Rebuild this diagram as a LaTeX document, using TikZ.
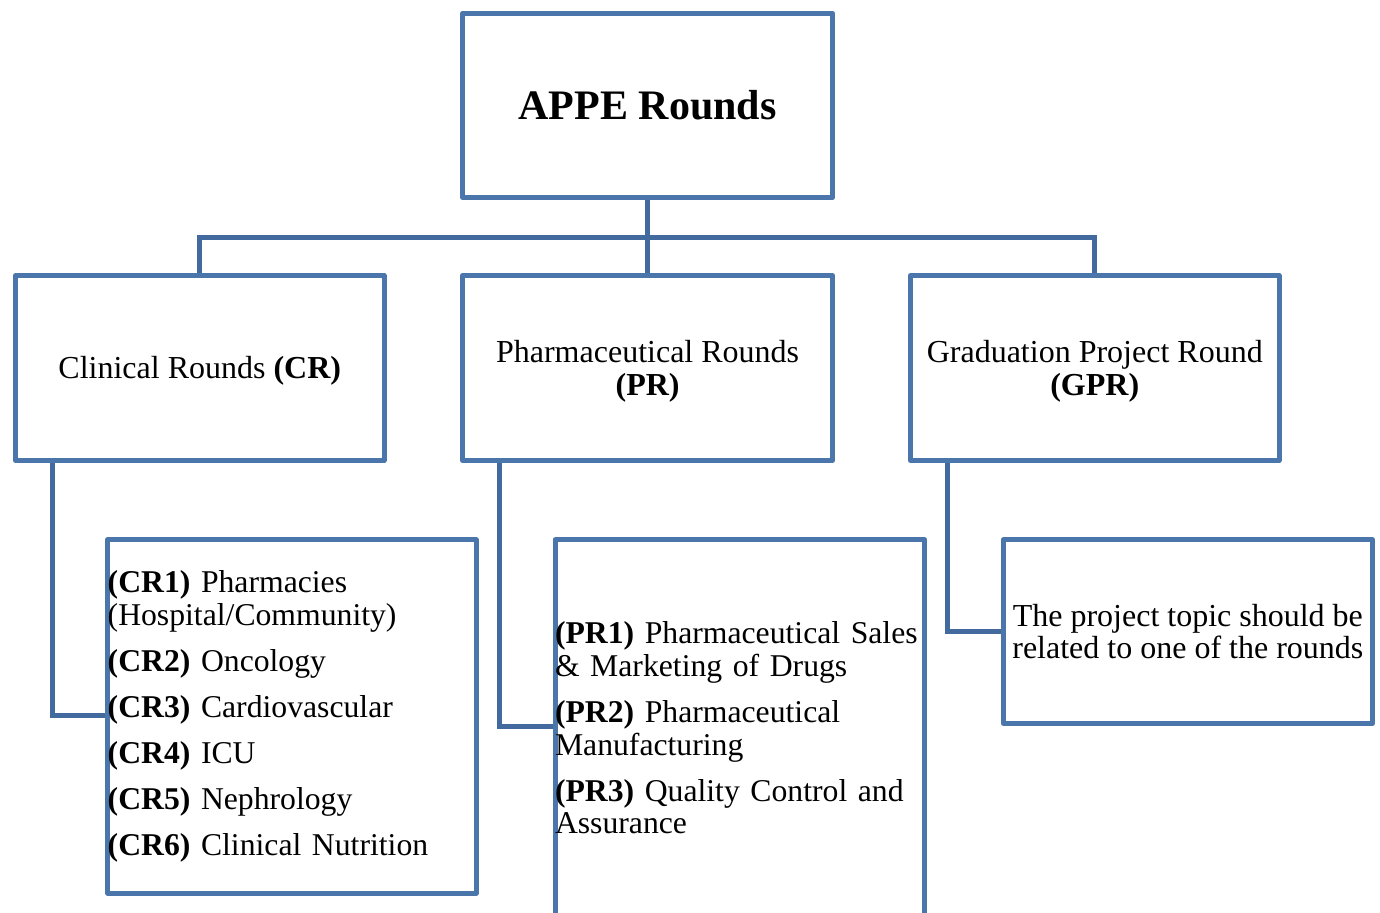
\documentclass[tikz,border=0pt]{standalone}
\usepackage{fontspec}
\setmainfont{Liberation Serif}
\definecolor{boxblue}{RGB}{74,118,172}
\definecolor{linkblue}{RGB}{66,106,158}
\newcommand{\topstr}{\rule{0pt}{28.5pt}}
\newcommand{\botstr}{\rule[-6.9pt]{0pt}{6.9pt}}
\begin{document}
\begin{tikzpicture}[x=1pt,y=-1pt,
  box/.style={draw=boxblue, line width=5pt, rectangle, inner sep=0pt, line join=round, text=black},
  link/.style={draw=linkblue, line width=5pt},
  txt/.style={font=\fontsize{32}{32.7}\selectfont},
  lst/.style={font=\fontsize{31.7}{32.7}\selectfont}]
\clip (0,0) rectangle (1380,912);
% root
\node[box, minimum width=369.8pt, minimum height=184.2pt, font=\fontsize{42}{44}\selectfont\bfseries] (root) at (647.6,105.4) {APPE Rounds};
% second row
\node[box, txt, align=center, minimum width=368.5pt, minimum height=185pt] (cr) at (199.75,368) {\topstr Clinical Rounds \textbf{(CR)}\botstr};
\node[box, txt, align=center, minimum width=369.8pt, minimum height=185pt] (pr) at (647.6,368) {\topstr Pharmaceutical Rounds\\\textbf{(PR)}\botstr};
\node[box, txt, align=center, minimum width=368.5pt, minimum height=185pt] (gpr) at (1094.75,368) {\topstr Graduation Project Round\\\textbf{(GPR)}\botstr};
% children
\node[box, lst, align=left, text width=368.3pt, minimum height=353.2pt] (crl) at (291.85,716.4)
 {\textbf{(CR1)} Pharmacies\\(Hospital/Community)\\[13.3pt]\textbf{(CR2)} Oncology\\[13.3pt]\textbf{(CR3)} Cardiovascular\\[13.3pt]\textbf{(CR4)} ICU\\[13.3pt]\textbf{(CR5)} Nephrology\\[13.3pt]\textbf{(CR6)} Clinical Nutrition};
\node[box, lst, align=left, text width=369.8pt, minimum height=376.4pt] (prl) at (739.9,728)
 {\textbf{(PR1)} Pharmaceutical Sales\\\& Marketing of Drugs\\[13.3pt]\textbf{(PR2)} Pharmaceutical\\Manufacturing\\[13.3pt]\textbf{(PR3)} Quality Control and\\Assurance};
\node[box, txt, align=center, minimum width=369.3pt, minimum height=183.4pt] (gprl) at (1187.85,631.5)
 {The project topic should be\\related to one of the rounds};
% connectors
\coordinate (bar) at (647.6,237);
\draw[link] (root.south) -- (pr.north);
\draw[link] (cr.north) |- (bar) -| (gpr.north);
\coordinate (crx) at (52.2,715.5);
\coordinate (prx) at (499.8,726.5);
\coordinate (gprx) at (947.5,631);
\draw[link] (cr.south -| crx) |- (crl.west |- crx);
\draw[link] (pr.south -| prx) |- (prl.west |- prx);
\draw[link] (gpr.south -| gprx) |- (gprl.west |- gprx);
\end{tikzpicture}
\end{document}
